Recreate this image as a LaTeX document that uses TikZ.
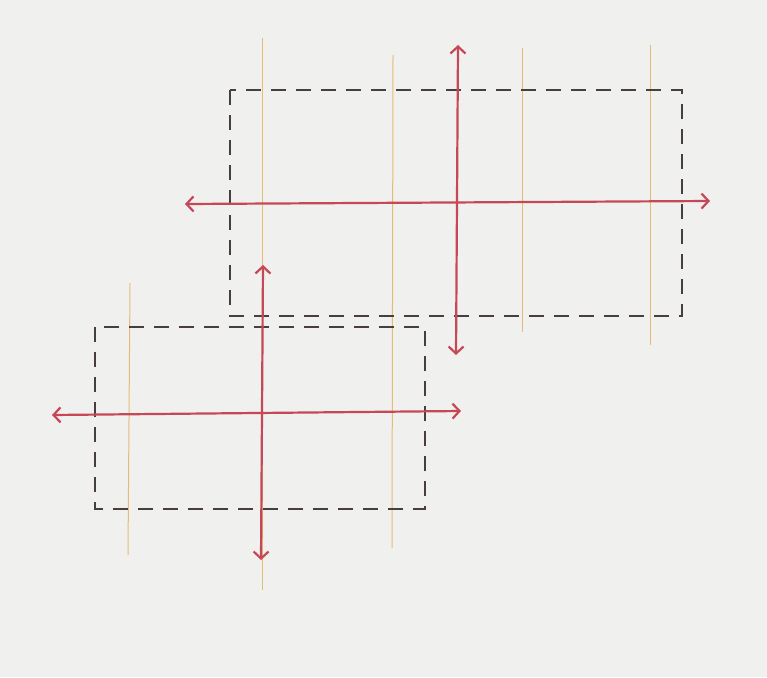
\documentclass[tikz,border=0pt]{standalone}
\usepackage{tikz}
\usetikzlibrary{arrows.meta, positioning, calc}
\definecolor{paperbg}{RGB}{240, 240, 238}
\definecolor{axisred}{RGB}{198, 72, 86}
\definecolor{guideyellow}{RGB}{228, 188, 120}
\definecolor{dashgray}{RGB}{72, 62, 62}

\tikzset{
  axisarrow/.style={draw=axisred, line width=2.2pt, {Straight Barb[length=7pt, width=15pt]}-{Straight Barb[length=7pt, width=15pt]}},
  framebox/.style={draw=dashgray, line width=1.8pt, dash pattern=on 15pt off 10pt},
  guide/.style={draw=guideyellow, line width=1pt}
}

\begin{document}
\begin{tikzpicture}[x=1pt, y=-1pt]
  \useasboundingbox (0,0) rectangle (767,677);
  \fill[paperbg] (0,0) rectangle (767,677);

  % Guide lines
  \coordinate (g1t) at (262, 38);  \coordinate (g1b) at (262, 590);
  \coordinate (g2t) at (393, 55);  \coordinate (g2b) at (392, 548);
  \coordinate (g3t) at (522, 48);  \coordinate (g3b) at (522, 332);
  \coordinate (g4t) at (650, 45);  \coordinate (g4b) at (650, 345);
  \coordinate (g5t) at (130, 283); \coordinate (g5b) at (128, 555);
  \draw[guide] (g1t) -- (g1b);
  \draw[guide] (g2t) -- (g2b);
  \draw[guide] (g3t) -- (g3b);
  \draw[guide] (g4t) -- (g4b);
  \draw[guide] (g5t) -- (g5b);

  % Upper frame
  \draw[framebox] (230, 90) rectangle (682, 316);

  % Lower frame
  \draw[framebox] (95, 327) rectangle (425, 509);

  % Upper axes
  \coordinate (uleft) at (185, 204);
  \coordinate (uright) at (710, 201);
  \coordinate (utop) at (458, 45);
  \coordinate (ubot) at (456, 355);
  \draw[axisarrow] (uleft) -- (uright);
  \draw[axisarrow] (utop) -- (ubot);

  % Lower axes
  \coordinate (lleft) at (52, 415);
  \coordinate (lright) at (461, 411);
  \coordinate (ltop) at (263, 265);
  \coordinate (lbot) at (261, 560);
  \draw[axisarrow] (lleft) -- (lright);
  \draw[axisarrow] (ltop) -- (lbot);
\end{tikzpicture}
\end{document}
